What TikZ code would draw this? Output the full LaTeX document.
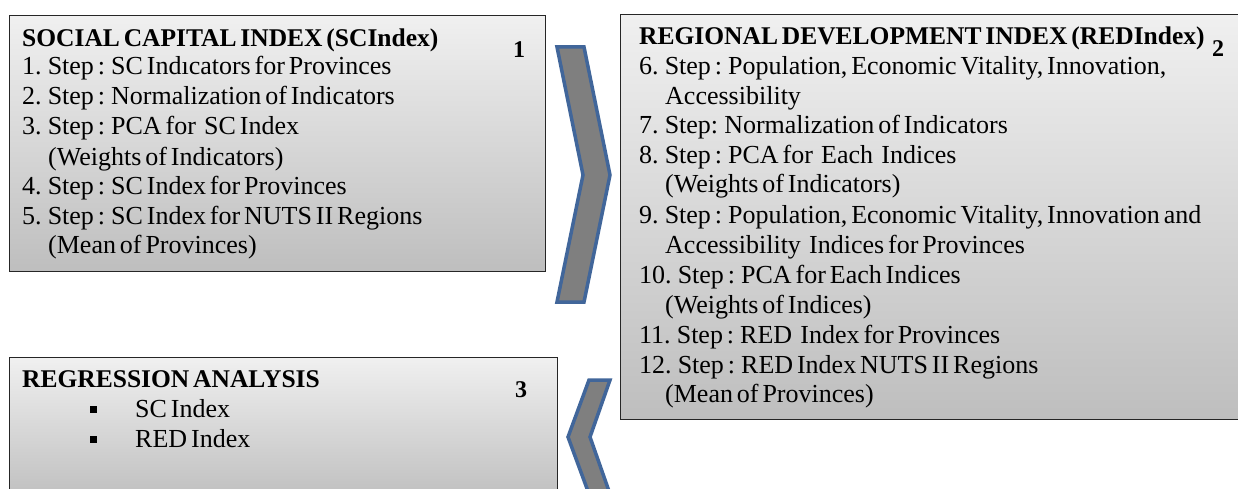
\documentclass[tikz,border=0pt]{standalone}
\usepackage{fontspec}
\setmainfont[WordSpace=0.6]{Liberation Serif}
\definecolor{boxtop}{HTML}{F0F0F0}
\definecolor{boxbot}{HTML}{BEBEBE}
\definecolor{chevfill}{HTML}{7F7F7F}
\definecolor{chevline}{HTML}{41669A}
\begin{document}
\begin{tikzpicture}[x=1pt,y=-1pt,
  panel/.style={draw=black!85, line width=1.3pt, top color=boxtop, bottom color=boxbot,
    rectangle, inner sep=0, anchor=north west},
  txt/.style={anchor=base west, inner sep=0, font=\fontsize{26}{28}\selectfont},
  ttl/.style={txt, font=\fontsize{25.5}{28}\selectfont\bfseries},
  num/.style={anchor=base, inner sep=0, font=\fontsize{24}{28}\selectfont\bfseries},
  bul/.style={fill=black, rectangle, minimum size=7pt, inner sep=0},
  chev/.style={fill=chevfill, draw=chevline, line width=3.5pt, line join=miter}
]
\path[use as bounding box] (0,0) rectangle (1238,489);
\clip (0,0) rectangle (1238,489);

% boxes
\node[panel, minimum width=536pt, minimum height=256pt] (b1) at (9,15) {};
\node[panel, minimum width=700pt, minimum height=405pt] (b2) at (620,14) {};
\node[panel, minimum width=548pt, minimum height=145pt] (b3) at (9,357) {};

% chevrons
\draw[chev] (557,47) -- (584,47) -- (610,175) -- (584,302) -- (557,302) -- (583,175) -- cycle;
\draw[chev] (589,380) -- (610,380) -- (590,437) -- (610,494) -- (589,494) -- (568,437) -- cycle;

% box 1 text
\node[ttl] (t1) at (22,47) {SOCIAL CAPITAL INDEX (SCIndex)};
\node[num] (n1) at (519,58) {1};
\node[txt] (a1) at (22,75) {1. Step : SC Indıcators for Provinces};
\node[txt] (a2) at (22,105) {2. Step : Normalization of Indicators};
\node[txt] (a3) at (22,135) {3. Step : PCA for\, SC Index};
\node[txt] (a4) at (48,165) {(Weights of Indicators)};
\node[txt] (a5) at (22,194) {4. Step : SC Index for Provinces};
\node[txt] (a6) at (22,224) {5. Step : SC Index for NUTS II Regions};
\node[txt] (a7) at (48,253) {(Mean of Provinces)};

% box 2 text
\node[ttl] (t2) at (639,45) {REGIONAL DEVELOPMENT INDEX (REDIndex)};
\node[num] (n2) at (1218,57) {2};
\node[txt] (c1) at (639,75) {6. Step : Population, Economic Vitality, Innovation,};
\node[txt] (c2) at (665,105) {Accessibility};
\node[txt] (c3) at (639,134) {7. Step: Normalization of Indicators};
\node[txt] (c4) at (639,164) {8. Step : PCA for\, Each\, Indices};
\node[txt] (c5) at (665,193) {(Weights of Indicators)};
\node[txt] (c6) at (639,223) {9. Step : Population, Economic Vitality, Innovation and};
\node[txt] (c7) at (665,253) {Accessibility\, Indices for Provinces};
\node[txt] (c8) at (639,283) {10. Step : PCA for Each Indices};
\node[txt] (c9) at (665,313) {(Weights of Indices)};
\node[txt] (c10) at (639,343) {11. Step : RED\, Index for Provinces};
\node[txt] (c11) at (639,373) {12. Step : RED Index NUTS II Regions};
\node[txt] (c12) at (665,402) {(Mean of Provinces)};

% box 3 text
\node[ttl] (t3) at (22,387) {REGRESSION ANALYSIS};
\node[num] (n3) at (521,397) {3};
\node[bul] (p1) at (93,409) {};
\node[txt] (d1) at (135,417) {SC Index};
\node[bul] (p2) at (93,439) {};
\node[txt] (d2) at (135,447) {RED Index};
\end{tikzpicture}
\end{document}
